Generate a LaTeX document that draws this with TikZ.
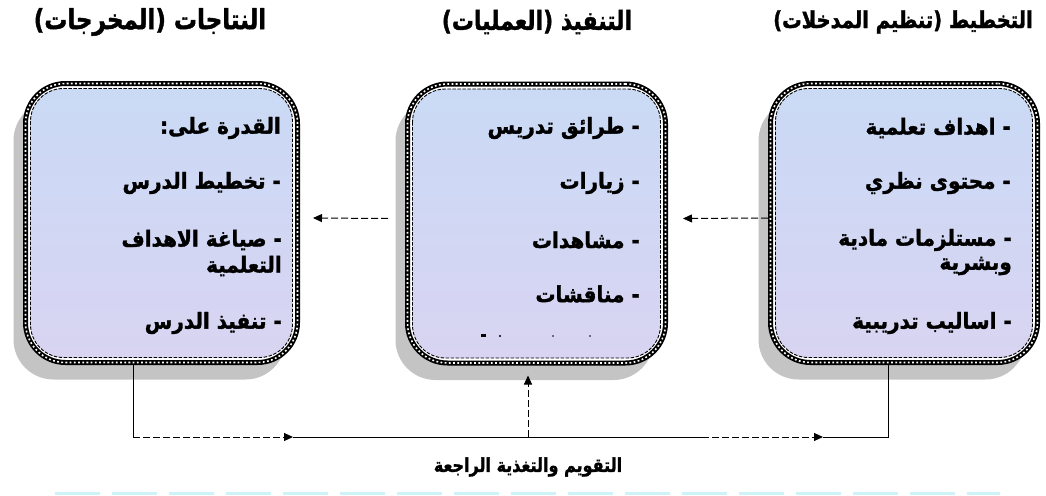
\documentclass[tikz,border=0pt]{standalone}
\usepackage{fontspec}
\newfontfamily\arabicfont[Script=Arabic, FakeBold=1.6]{DejaVu Sans Bold}
\TeXXeTstate=1
\usetikzlibrary{shadows,arrows.meta}
\definecolor{boxA}{RGB}{202,218,245}
\definecolor{boxB}{RGB}{216,212,242}
\definecolor{shadowgray}{RGB}{196,196,196}
\definecolor{palecyan}{RGB}{205,242,247}
\newcommand{\artxt}[1]{\scalebox{1}[1.2]{\arabicfont\beginR #1\endR}}
\newcommand{\arbody}[1]{\scalebox{1}[1.1]{\arabicfont\beginR #1\endR}}
\begin{document}
\begin{tikzpicture}[x=1pt,y=-1pt,
  boxouter/.style={draw=black, line width=5pt, fill=white, rounded corners=40pt,
    inner sep=0pt, minimum height=279pt,
    drop shadow={shadow xshift=-12pt, shadow yshift=-17pt, fill=shadowgray, opacity=1},
    postaction={draw=white, line width=1.6pt, dash pattern=on 1.8pt off 2.4pt}},
  boxinner/.style={draw=black, line width=0.9pt, dash pattern=on 3.5pt off 1.5pt,
    rounded corners=33pt, top color=boxA, bottom color=boxB},
  txt/.style={inner sep=0pt, anchor=east, font=\fontsize{20}{22}\selectfont},
  title/.style={inner sep=0pt, font=\fontsize{21}{24}\selectfont},
  conn/.style={line width=1pt, black},
  dconn/.style={line width=1pt, black, dash pattern=on 7pt off 3pt},
  tip/.style={-{Triangle[length=9pt,width=8pt]}}
]
\useasboundingbox (0,0) rectangle (1046,495);

% boxes
\node[boxouter, minimum width=272pt] (L) at (161.5,223) {};
\node[boxouter, minimum width=258pt] (M) at (536.5,223.5) {};
\node[boxouter, minimum width=267pt] (R) at (904,223) {};
\foreach \b in {L,M,R}{
  \draw[boxinner] ([shift={(7.5,7.5)}]\b.north west) rectangle ([shift={(-7.5,-7.5)}]\b.south east);
}

% titles
\node[title, font=\fontsize{23}{26}\selectfont] (tL) at (150,22) {\artxt{النتاجات (المخرجات)}};
\node[title, font=\fontsize{22}{26}\selectfont] (tM) at (537,22) {\artxt{التنفيذ (العمليات)}};
\node[title, font=\fontsize{19.5}{24}\selectfont] (tR) at (903,22) {\artxt{التخطيط (تنظيم المدخلات)}};

% left box text
\node[txt] (l1) at (281,128) {\arbody{القدرة على:}};
\node[txt] (l2) at (281,183) {\arbody{- تخطيط الدرس}};
\node[txt] (l3) at (282,240) {\arbody{- صياغة الاهداف}};
\node[txt] (l4) at (282,266) {\arbody{التعلمية}};
\node[txt] (l5) at (282,323) {\arbody{- تنفيذ الدرس}};

% middle box text
\node[txt] (m1) at (640,128) {\arbody{- طرائق تدريس}};
\node[txt] (m2) at (640,183) {\arbody{- زيارات}};
\node[txt] (m3) at (640,240) {\arbody{- مشاهدات}};
\node[txt] (m4) at (640,294) {\arbody{- مناقشات}};
\fill (481,334) rectangle (486,336.5);
\fill (500,336) circle (1.1pt);
\fill (553,336) circle (0.8pt);
\fill (590,336) circle (0.8pt);

% right box text
\node[txt] (r1) at (1011,128) {\arbody{- اهداف تعلمية}};
\node[txt] (r2) at (1011,183) {\arbody{- محتوى نظري}};
\node[txt] (r3) at (1012,240) {\arbody{- مستلزمات مادية}};
\node[txt] (r4) at (1012,266) {\arbody{وبشرية}};
\node[txt] (r5) at (1012,323) {\arbody{- اساليب تدريبية}};

% top connectors
\draw[dconn, tip] ([yshift=5pt]R.west) -- ([shift={(15pt,5pt)}]M.east);
\draw[dconn, tip] ([shift={(-17pt,5pt)}]M.west) -- ([shift={(13pt,5pt)}]L.east);

% feedback loop
\coordinate (b1) at (133,437);
\coordinate (b2) at (888,437);
\coordinate (bm) at (528,437);
\coordinate (a1) at (293,437);
\coordinate (a2) at (702,437);
\coordinate (a3) at (823,437);
\draw[conn] (b1 |- L.south) -- (b1);
\draw[dconn, tip] (b1) -- (a1);
\draw[conn] (a1) -- (a2);
\draw[dconn, tip] (a2) -- (a3);
\draw[conn] (a3) -- (b2) -- (b2 |- R.south);
\draw[dconn, tip] (bm) -- ([yshift=-10pt]bm |- M.south);

\node[title, font=\fontsize{16}{18}\selectfont] (fb) at (528,467) {\artxt{التقويم والتغذية الراجعة}};

\draw[palecyan, line width=3pt, dash pattern=on 45pt off 12pt] (55,493) -- (1000,493);
\end{tikzpicture}
\end{document}
